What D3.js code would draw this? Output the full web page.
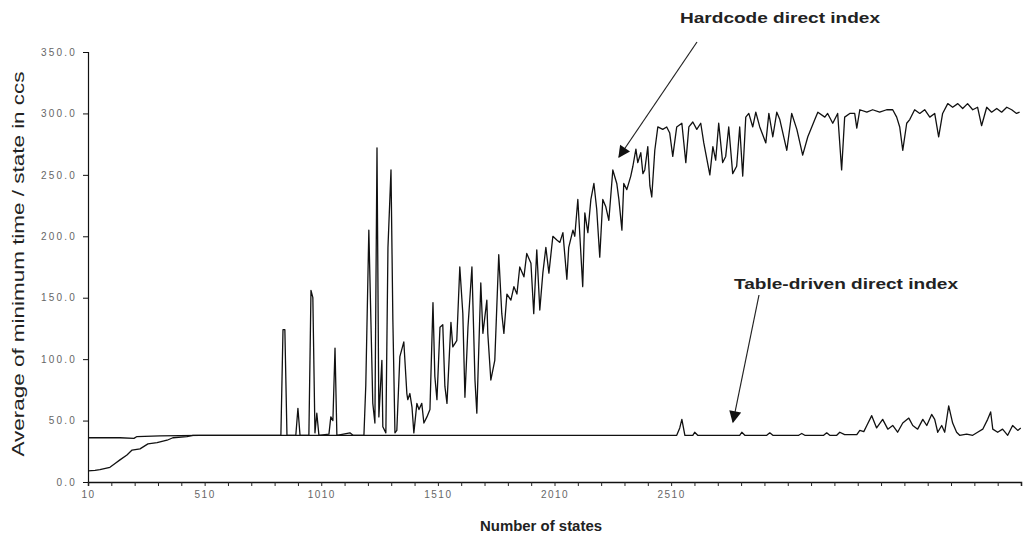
<!DOCTYPE html>
<html>
<head>
<meta charset="utf-8">
<script src="https://cdn.jsdelivr.net/npm/d3@7/dist/d3.min.js"></script>
<style>
  html, body { margin: 0; padding: 0; background: #fff; }
  svg { display: block; }
  text { font-family: Arial, "Liberation Sans", sans-serif; }
</style>
</head>
<body>
<svg id="chart" width="1023" height="543"></svg>
<script>
// Number of states (x) for each series and the measured average time per state (y, ccs)
const hardStates = [10, 40, 61, 104, 126, 147, 177, 199, 233, 267, 306, 349, 374, 434, 460, 490,
  837, 846, 854, 863, 901, 910, 919, 957, 966, 974, 983, 991, 1000, 1043, 1051, 1060, 1069, 1077,
  1133, 1146, 1193, 1201, 1214, 1231, 1240, 1249, 1257, 1270, 1274, 1287, 1296, 1309, 1317, 1326,
  1334, 1347, 1364, 1377, 1381, 1390, 1399, 1407, 1420, 1429, 1441, 1450, 1463, 1476, 1489, 1497,
  1506, 1519, 1531, 1540, 1549, 1566, 1574, 1591, 1604, 1617, 1626, 1639, 1656, 1669, 1677, 1694,
  1703, 1720, 1724, 1737, 1754, 1771, 1784, 1793, 1806, 1823, 1836, 1849, 1861, 1879, 1891, 1909,
  1921, 1934, 1947, 1960, 1973, 1986, 2003, 2020, 2033, 2046, 2063, 2071, 2089, 2097, 2110, 2123,
  2131, 2140, 2153, 2166, 2179, 2191, 2204, 2217, 2230, 2243, 2260, 2277, 2286, 2299, 2307, 2320,
  2337, 2346, 2359, 2367, 2380, 2389, 2397, 2410, 2419, 2427, 2440, 2453, 2474, 2491, 2504, 2517,
  2534, 2556, 2573, 2586, 2603, 2620, 2637, 2650, 2676, 2689, 2701, 2714, 2731, 2744, 2757, 2774,
  2791, 2804, 2817, 2830, 2843, 2860, 2873, 2890, 2916, 2929, 2946, 2963, 2976, 3006, 3027, 3049,
  3074, 3096, 3113, 3126, 3139, 3169, 3181, 3203, 3224, 3241, 3254, 3276, 3297, 3306, 3319, 3349,
  3374, 3404, 3434, 3460, 3477, 3490, 3503, 3520, 3533, 3554, 3576, 3597, 3619, 3640, 3657, 3674,
  3696, 3717, 3739, 3760, 3781, 3803, 3824, 3841, 3863, 3884, 3906, 3927, 3949, 3970, 3991, 4004];
const hardValues = [9, 9.5, 10, 12, 15, 18, 22, 26, 27, 31, 32, 34, 36, 37, 38, 38,
  38, 124, 124, 38, 38, 60, 38, 38, 156, 150, 40, 56, 38, 39, 53, 50, 109, 38,
  40, 38, 38, 79, 205, 64, 48, 272, 53, 99, 45, 40, 191, 254, 132, 40,
  42, 102, 114, 72, 67, 72, 61, 40, 64, 59, 64, 48, 53, 59, 146, 86,
  67, 126, 128, 78, 64, 130, 110, 115, 175, 137, 69, 126, 175, 83, 56, 162,
  121, 148, 121, 83, 99, 185, 137, 121, 153, 148, 159, 153, 175, 167, 186, 178,
  137, 189, 140, 170, 191, 170, 200, 197, 195, 203, 165, 191, 205, 200, 230, 186,
  159, 219, 203, 230, 243, 222, 183, 230, 224, 213, 254, 243, 230, 205, 243, 238,
  249, 257, 271, 260, 268, 251, 254, 273, 241, 232, 270, 289, 287, 289, 284, 265,
  289, 292, 260, 289, 293, 287, 292, 276, 250, 273, 262, 292, 260, 265, 289, 251,
  257, 289, 249, 297, 300, 289, 301, 289, 276, 300, 281, 301, 295, 270, 300, 287,
  266, 281, 289, 295, 301, 297, 300, 292, 300, 254, 297, 300, 300, 288, 303, 301,
  303, 301, 303, 303, 297, 289, 270, 292, 295, 303, 300, 303, 297, 300, 281, 300,
  308, 305, 308, 304, 308, 303, 305, 290, 305, 301, 304, 301, 305, 303, 300, 301];

const tableStates = [10, 147, 207, 220, 319, 490, 2534, 2547, 2556, 2569, 2603, 2611, 2624,
  2804, 2813, 2826, 2920, 2933, 2946, 3057, 3070, 3083, 3164, 3177, 3190, 3220, 3233, 3254,
  3306, 3319, 3336, 3349, 3370, 3391, 3417, 3439, 3460, 3481, 3503, 3529, 3546, 3567, 3589,
  3606, 3627, 3640, 3653, 3670, 3683, 3700, 3717, 3734, 3747, 3777, 3803, 3824, 3846, 3867,
  3880, 3889, 3910, 3931, 3953, 3974, 3996, 4009];
const tableValues = [36, 36, 35.5, 37, 37.5, 38, 38, 44, 51, 38, 38, 40.5, 38,
  38, 40.5, 38, 38, 40, 38, 38, 39.5, 38, 38, 40, 38, 38, 40.5, 38.5,
  38.5, 42, 41, 46, 54, 44, 51, 43, 46, 40.5, 48, 52, 46, 43, 51,
  46, 55, 51, 40.5, 46, 40.5, 62, 48, 40.5, 38, 39, 38, 40.5, 43, 51,
  57, 43, 40.5, 43, 38, 46, 42, 44];

// Axis ticks and labels
const yTicks = [0, 50, 100, 150, 200, 250, 300, 350];
const xTickMarks = d3.range(10, 4011, 100);
const xTickLabels = [10, 510, 1010, 1510, 2010, 2510];

const svg = d3.select("#chart");

const x = d3.scaleLinear().domain([10, 4010]).range([88, 1021]);
const y = d3.scaleLinear().domain([0, 350]).range([482, 52]);

// Y axis
const yAxis = svg.append("g")
  .attr("transform", `translate(${x(10)},0)`)
  .call(d3.axisLeft(y).tickValues(yTicks).tickFormat(d3.format(".1f")).tickSize(5).tickPadding(6));
yAxis.select(".domain").attr("stroke", "#111").attr("stroke-width", 1.2);
yAxis.selectAll(".tick line").attr("stroke", "#111");
yAxis.selectAll(".tick text")
  .attr("font-size", 10).attr("fill", "#666").attr("letter-spacing", 2.2)
  .attr("font-family", "Arial, 'Liberation Sans', sans-serif");

// X axis: tick marks every 100 states, labels every 500
const xAxis = svg.append("g")
  .attr("transform", `translate(0,${y(0)})`)
  .call(d3.axisBottom(x).tickValues(xTickMarks).tickSize(4).tickFormat(""));
xAxis.select(".domain").attr("stroke", "#111").attr("stroke-width", 1.5);
xAxis.selectAll(".tick line").attr("stroke", "#222");

const xLab = svg.append("g")
  .attr("transform", `translate(0,${y(0)})`)
  .call(d3.axisBottom(x).tickValues(xTickLabels).tickSize(0).tickPadding(9).tickFormat(d3.format("d")));
xLab.select(".domain").remove();
xLab.selectAll(".tick text")
  .attr("font-size", 10).attr("fill", "#666").attr("letter-spacing", 1.5)
  .attr("font-family", "Arial, 'Liberation Sans', sans-serif");

// Series lines
const line = d3.line().x(d => x(d[0])).y(d => y(d[1]));
const tableData = d3.zip(tableStates, tableValues);
const hardData = d3.zip(hardStates, hardValues);

svg.append("path").datum(tableData)
  .attr("d", line).attr("fill", "none").attr("stroke", "#111").attr("stroke-width", 1.3)
  .attr("stroke-linejoin", "round");
svg.append("path").datum(hardData)
  .attr("d", line).attr("fill", "none").attr("stroke", "#111").attr("stroke-width", 1.3)
  .attr("stroke-linejoin", "round");

// Arrowhead
svg.append("defs").append("marker")
  .attr("id", "head").attr("viewBox", "0 0 10 10").attr("refX", 9).attr("refY", 5)
  .attr("markerWidth", 14).attr("markerHeight", 12).attr("markerUnits", "userSpaceOnUse")
  .attr("orient", "auto")
  .append("path").attr("d", "M0,0 L10,5 L0,10 Z").attr("fill", "#111");

// Annotations
svg.append("text").attr("x", 780).attr("y", 23).attr("text-anchor", "middle")
  .attr("font-size", 15).attr("font-weight", "bold").attr("fill", "#222")
  .attr("textLength", 200).attr("lengthAdjust", "spacingAndGlyphs")
  .text("Hardcode direct index");
svg.append("line").attr("x1", 697).attr("y1", 42).attr("x2", 619).attr("y2", 157)
  .attr("stroke", "#222").attr("stroke-width", 1.2).attr("marker-end", "url(#head)");

svg.append("text").attr("x", 846).attr("y", 289).attr("text-anchor", "middle")
  .attr("font-size", 15).attr("font-weight", "bold").attr("fill", "#222")
  .attr("textLength", 224).attr("lengthAdjust", "spacingAndGlyphs")
  .text("Table-driven direct index");
svg.append("line").attr("x1", 759).attr("y1", 295).attr("x2", 733).attr("y2", 422)
  .attr("stroke", "#222").attr("stroke-width", 1.2).attr("marker-end", "url(#head)");

// Axis titles
svg.append("text").attr("x", 541).attr("y", 531).attr("text-anchor", "middle")
  .attr("font-size", 15).attr("font-weight", "bold").attr("fill", "#222")
  .attr("textLength", 122).attr("lengthAdjust", "spacingAndGlyphs")
  .text("Number of states");
svg.append("text")
  .attr("transform", "translate(24,264) rotate(-90)")
  .attr("text-anchor", "middle").attr("font-size", 17).attr("fill", "#222")
  .attr("textLength", 385).attr("lengthAdjust", "spacingAndGlyphs")
  .text("Average of minimum time / state in ccs");
</script>
</body>
</html>
